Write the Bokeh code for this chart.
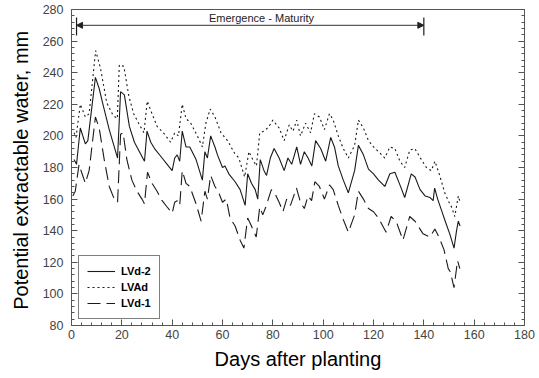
from bokeh.plotting import figure
from bokeh.models import (LinearAxis, SingleIntervalTicker, Range1d, Legend, LegendItem,
                          Arrow, NormalHead, Label, CustomLabelingPolicy)
from bokeh.embed import file_html
from bokeh.resources import INLINE

# ---- data ----
lvd2_days = [1, 2, 3.5, 5.5, 6.5, 9.5, 11, 12.5, 15, 17, 18.3, 19.5, 21, 23, 25, 27, 29, 30, 31.5, 33,
             36, 38, 40, 41, 42, 43, 44, 45.5, 47, 49.5, 52, 53, 54, 55.3, 57, 58, 60, 61, 62.5, 65,
             67, 69, 70, 71.5, 73, 74, 75, 76.5, 77.5, 79, 80.5, 82.5, 84.5, 86, 87.5, 89.5, 91, 92.5, 94, 95.5,
             97, 99, 101, 103, 104.5, 106, 108, 110, 112.5, 114, 116, 118, 120, 122, 124.5, 126.5, 128.5, 130.5, 132.4, 135,
             136.5, 138.5, 140.5, 142.5, 143.7, 144.3, 145.5, 147, 148.5, 150.3, 152, 153, 153.7, 154.4]
lvd2_vals = [185, 182, 205, 195, 197, 237, 230, 220, 204, 193, 186, 228, 226, 206, 196, 190, 184, 203, 196, 192,
             186, 182, 178, 186, 188, 184, 203, 193, 193, 185, 172, 190, 186, 200, 193, 188, 180, 181, 176, 171,
             166, 156, 176, 170, 166, 160, 185, 178, 175, 186, 192, 186, 178, 186, 182, 193, 182, 190, 186, 181,
             197, 192, 184, 199, 193, 181, 172, 164, 178, 194, 188, 179, 176, 172, 168, 176, 177, 169, 161, 176,
             174, 166, 162, 161, 159, 167, 160, 153, 146, 138, 129, 140, 146, 143]

lvad_days = [1, 1.8, 3.5, 5.5, 7, 9.6, 11.5, 14, 16.5, 18.2, 19, 20.8, 22.8, 24.7, 27, 28.8, 30.1, 32, 34, 36.5,
             39.4, 41, 42.5, 44, 45.5, 47.4, 50, 52, 53.4, 55.1, 57, 59.4, 62, 64.8, 66.5, 68.8, 70.5, 72, 73.5, 74.8,
             76.6, 78.5, 80, 82.5, 84.5, 86.5, 88, 89.5, 91, 93, 95, 96.5, 98.5, 100.5, 102.5, 104, 106, 108, 110, 112.5,
             114, 116, 118, 120, 122, 124.5, 126.5, 128.5, 130.5, 132.4, 134.4, 136.4, 139, 141, 143, 144.4, 146.3, 148.3, 150, 151,
             152.3, 153.7, 154.4]
lvad_vals = [202, 199, 220, 212, 214, 254, 243, 221, 213, 211, 245, 244, 225, 214, 207, 202, 222, 214, 206, 202,
             196, 202, 200, 220, 211, 208, 200, 193, 208, 217, 212, 202, 197, 189, 186, 174, 190, 185, 181, 202,
             203, 206, 210, 205, 197, 207, 203, 210, 200, 208, 202, 214, 212, 204, 214, 210, 200, 192, 186, 194,
             210, 205, 197, 193, 190, 186, 193, 192, 184, 180, 191, 192, 185, 180, 178, 184, 175, 164, 158, 155,
             149, 162, 158]

lvd1_days = [0.5, 1.5, 3, 4, 5.5, 7, 9.5, 11, 13, 15, 17, 18.3, 19.5, 20.5, 22, 24, 26, 28, 29, 30.2,
             32, 34, 36, 38, 40, 41, 42, 43, 44, 45.5, 47, 49.5, 51.5, 53, 54, 55.3, 57, 58.5, 60, 61.5,
             63, 65, 67, 68.5, 70, 71.5, 73.4, 74.8, 76, 77.2, 79.4, 80.7, 82.5, 84, 85.5, 87, 89.4, 91, 92.5, 94,
             95.4, 96.7, 98.5, 100.5, 102.5, 104, 106, 108, 110, 112.5, 114, 116, 118, 120, 122, 125, 127, 129, 131.7, 134.4,
             136.5, 139.7, 142.4, 144.4, 146, 148, 149.7, 150.5, 152, 153.4, 154.3]
lvd1_vals = [162, 165, 182, 177, 170, 178, 212, 205, 185, 168, 160, 158, 201, 202, 185, 172, 165, 160, 157, 177,
             170, 165, 159, 155, 151, 158, 159, 156, 178, 170, 168, 157, 146, 165, 160, 175, 168, 164, 158, 160,
             148, 143, 134, 129, 148, 143, 136, 155, 150, 155, 166, 164, 158, 152, 160, 156, 167, 158, 154, 162,
             159, 171, 168, 160, 169, 166, 156, 147, 139, 150, 165, 160, 154, 152, 148, 139, 149, 146, 134, 149,
             146, 138, 136, 141, 136, 128, 116, 114, 104, 121, 116]

emergence_day = 2
maturity_day = 140
period_y = 270
period_bar_lo = 263.5
period_bar_hi = 275
period_text = "Emergence - Maturity"
period_text_x = 75.5
period_text_y = 274.5

FONT = "Liberation Sans"
DARK = "#1a1a1a"
AX = "#555555"

p = figure(width=539, height=378, output_backend="svg", toolbar_location=None,
           x_range=Range1d(0, 180), y_range=Range1d(80, 280),
           min_border_left=71, min_border_right=15, min_border_top=9, min_border_bottom=53,
           x_axis_label="Days after planting", y_axis_label="Potential extractable water,  mm")
p.xgrid.visible = False
p.ygrid.visible = False
p.outline_line_color = AX
p.outline_line_width = 1
p.background_fill_color = "white"
p.border_fill_color = "white"

p.xaxis.ticker = SingleIntervalTicker(interval=20, num_minor_ticks=5)
p.yaxis.ticker = SingleIntervalTicker(interval=20, num_minor_ticks=5)
for ax in (p.xaxis[0], p.yaxis[0]):
    ax.axis_line_color = AX
    ax.major_tick_line_color = AX
    ax.minor_tick_line_color = AX
    ax.major_tick_in = 6
    ax.major_tick_out = 0
    ax.minor_tick_in = 3
    ax.minor_tick_out = 0
    ax.major_label_text_font = FONT
    ax.major_label_text_font_size = "12.5px"
    ax.major_label_text_color = "#444444"
    ax.axis_label_text_font = FONT
    ax.axis_label_text_font_size = "20px"
    ax.axis_label_text_font_style = "normal"
    ax.axis_label_text_color = "black"
p.xaxis.major_label_standoff = 4
p.xaxis.axis_label_standoff = 6
p.yaxis.major_label_standoff = 8
p.yaxis.axis_label_standoff = 8

right = LinearAxis(ticker=SingleIntervalTicker(interval=20, num_minor_ticks=5),
                   major_label_policy=CustomLabelingPolicy(code="return new Set()"),
                   major_label_text_font_size="1px", major_label_standoff=0,
                   axis_line_color=AX, major_tick_line_color=AX, minor_tick_line_color=AX,
                   major_tick_in=6, major_tick_out=0, minor_tick_in=3, minor_tick_out=0)
p.add_layout(right, "right")

r2 = p.line(lvd2_days, lvd2_vals, line_color=DARK, line_width=1.1)
ra = p.line(lvad_days, lvad_vals, line_color=DARK, line_width=1.1, line_dash="2 3")
r1 = p.line(lvd1_days, lvd1_vals, line_color=DARK, line_width=1.1, line_dash="13 6")

# emergence - maturity period marker
p.segment(x0=[emergence_day, maturity_day], y0=[period_bar_lo, period_bar_lo],
          x1=[emergence_day, maturity_day], y1=[period_bar_hi, period_bar_hi],
          line_color=DARK, line_width=1.2)
p.add_layout(Arrow(x_start=emergence_day, y_start=period_y, x_end=maturity_day, y_end=period_y,
                   line_color="#333333", line_width=1,
                   start=NormalHead(size=6, fill_color="#222222", line_color="#222222"),
                   end=NormalHead(size=6, fill_color="#222222", line_color="#222222")))
p.add_layout(Label(x=period_text_x, y=period_text_y, text=period_text, text_align="center",
                   text_baseline="middle", text_font=FONT, text_font_size="11px", text_color="#222222"))

legend = Legend(items=[LegendItem(label="LVd-2", renderers=[r2]),
                       LegendItem(label="LVAd", renderers=[ra]),
                       LegendItem(label="LVd-1", renderers=[r1])],
                location=(7, 6), padding=8, spacing=2, glyph_width=28, glyph_height=14,
                label_height=14, label_standoff=6, margin=0,
                label_text_font=FONT, label_text_font_size="11px", label_text_font_style="bold",
                label_text_color="black",
                border_line_color="black", border_line_width=1, background_fill_color="white",
                background_fill_alpha=1)
p.add_layout(legend, "center")

open("out.html", "w").write(file_html(p, INLINE))
